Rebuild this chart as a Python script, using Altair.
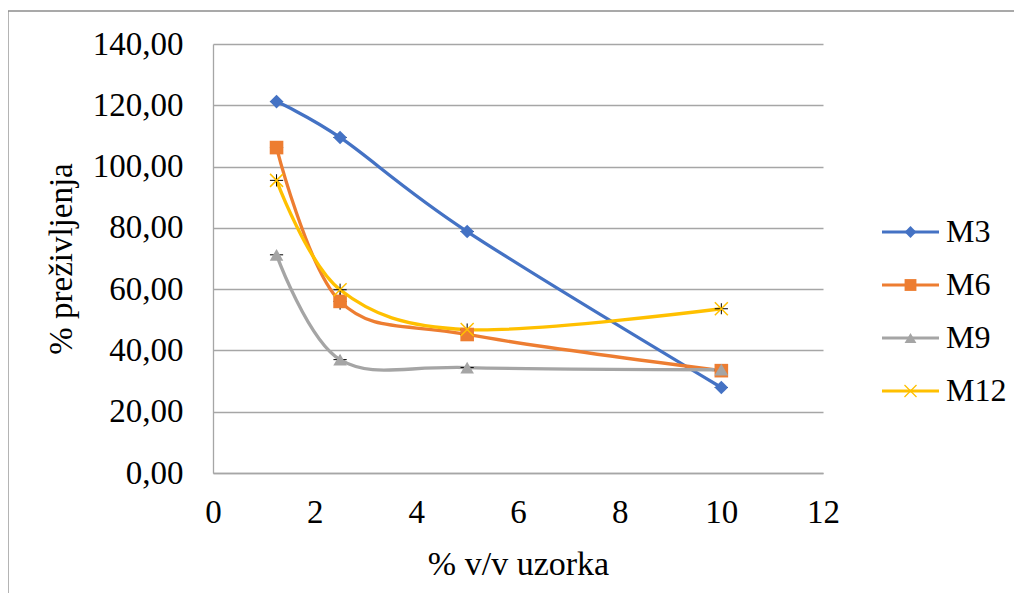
import altair as alt
import pandas as pd

# ---- data ----
x_vals = [1.25, 2.5, 5, 10]
series_names = ["M3", "M6", "M9", "M12"]
m3 = [121.2, 109.5, 78.8, 27.9]
m6 = [106.2, 56.0, 45.2, 33.4]
m9 = [71.2, 37.0, 34.4, 33.7]
m12 = [95.5, 59.8, 46.8, 53.6]
# small error bars (estimated)
m3_err = [1.5, 1.5, 1.5, 1.5]
m6_err = [2.0, 2.7, 2.0, 1.8]
m9_err = [1.5, 1.5, 1.2, 1.5]
m12_err = [2.0, 2.0, 2.0, 1.8]
x_err = [0.13, 0.13, 0.13, 0.13]

x_ticks = [0, 2, 4, 6, 8, 10, 12]
y_ticks = [0, 20, 40, 60, 80, 100, 120, 140]

colors = ["#4472C4", "#ED7D31", "#A5A5A5", "#FFC000"]
x_path = "M-1,-1L1,1M-1,1L1,-1"
shapes = ["diamond", "square", "triangle-up", x_path]

rows = []
for name, vals, errs in zip(series_names, [m3, m6, m9, m12], [m3_err, m6_err, m9_err, m12_err]):
    for xv, yv, ev, exv in zip(x_vals, vals, errs, x_err):
        rows.append({"series": name, "x": xv, "y": yv,
                     "ylo": yv - ev, "yhi": yv + ev,
                     "xlo": xv - exv, "xhi": xv + exv})
df = pd.DataFrame(rows)
leg_df = pd.DataFrame({"series": series_names})
one = pd.DataFrame({"k": [0]})

FONT = "Liberation Serif"
GRID = "#a6a6a6"
FRAME = "#8c8c8c"
NOVIEW = alt.ViewBackground(stroke="transparent", strokeWidth=0)

color_scale = alt.Scale(domain=series_names, range=colors)
shape_scale = alt.Scale(domain=series_names, range=shapes)

x_enc = alt.X("x:Q", scale=alt.Scale(domain=[0, 12], nice=False),
              axis=alt.Axis(title="% v/v uzorka", values=x_ticks, grid=False,
                            ticks=False, labelPadding=23, titlePadding=18,
                            labelFlush=False, labelOverlap=False,
                            domainColor=GRID, domainWidth=1.3,
                            labelFontSize=33, titleFontSize=34,
                            labelFont=FONT, titleFont=FONT, labelColor="black",
                            titleColor="black", titleFontWeight="normal"))
y_enc = alt.Y("y:Q", scale=alt.Scale(domain=[0, 140], nice=False),
              axis=alt.Axis(title="% preživljenja", values=y_ticks, grid=True,
                            gridColor=GRID, gridWidth=1.3, ticks=False,
                            labelPadding=30, titlePadding=14, domainColor=GRID,
                            labelFlush=False, labelOverlap=False,
                            domainWidth=1.3,
                            labelExpr="replace(format(datum.value, '.2f'), '.', ',')",
                            labelFontSize=33, titleFontSize=33, labelFont=FONT,
                            titleFont=FONT, labelColor="black", titleColor="black",
                            titleFontWeight="normal"))

base = alt.Chart(df)

lines = base.mark_line(interpolate="cardinal", strokeWidth=3.3).encode(
    x=x_enc, y=y_enc,
    color=alt.Color("series:N", scale=color_scale, legend=None),
    detail="series:N",
    order="x:Q",
)

err_v = base.mark_rule(color="black", strokeWidth=1).encode(
    x="x:Q", y="ylo:Q", y2="yhi:Q")
err_h = base.mark_rule(color="black", strokeWidth=1).encode(
    y="y:Q", x="xlo:Q", x2="xhi:Q")

pts_filled = base.transform_filter(alt.datum.series != "M12").mark_point(
    filled=True, opacity=1, size=185).encode(
    x="x:Q", y="y:Q",
    color=alt.Color("series:N", scale=color_scale, legend=None),
    shape=alt.Shape("series:N", scale=shape_scale, legend=None),
)
pts_x = base.transform_filter(alt.datum.series == "M12").mark_point(
    filled=False, opacity=1, size=169, strokeWidth=1.5).encode(
    x="x:Q", y="y:Q",
    color=alt.Color("series:N", scale=color_scale, legend=None),
    shape=alt.Shape("series:N", scale=shape_scale, legend=None),
)

# chart frame (only its top and left edges are visible in the reference)
frame_top = alt.Chart(one).mark_rule(color=FRAME, strokeWidth=1.3).encode(
    x=alt.value(-205), x2=alt.value(801), y=alt.value(-33))
frame_left = alt.Chart(one).mark_rule(color=FRAME, strokeWidth=1.3).encode(
    x=alt.value(-205), y=alt.value(-33), y2=alt.value(549))

main = alt.layer(frame_top, frame_left, lines, err_v, err_h, pts_filled, pts_x).properties(
    width=610, height=429, view=NOVIEW)

# ---- custom legend (line + marker + label) ----
leg_y = alt.Y("series:N", sort=series_names,
              scale=alt.Scale(type="point", domain=series_names, range=[188, 347], padding=0),
              axis=None)
lb = alt.Chart(leg_df)
leg_line = lb.mark_rule(strokeWidth=3).encode(
    x=alt.value(39), x2=alt.value(96), y=leg_y,
    color=alt.Color("series:N", scale=color_scale, legend=None))
leg_pts = lb.transform_filter(alt.datum.series != "M12").mark_point(
    filled=True, opacity=1, size=140).encode(
    x=alt.value(67.5), y=leg_y,
    color=alt.Color("series:N", scale=color_scale, legend=None),
    shape=alt.Shape("series:N", scale=shape_scale, legend=None))
leg_x = lb.transform_filter(alt.datum.series == "M12").mark_point(
    filled=False, opacity=1, size=144, strokeWidth=1.3).encode(
    x=alt.value(67.5), y=leg_y,
    color=alt.Color("series:N", scale=color_scale, legend=None),
    shape=alt.Shape("series:N", scale=shape_scale, legend=None))
leg_txt = lb.mark_text(align="left", baseline="middle", fontSize=32, font=FONT,
                       color="black").encode(
    x=alt.value(103), y=leg_y, text="series:N")
legend = alt.layer(leg_line, leg_pts, leg_x, leg_txt).properties(
    width=160, height=429, view=NOVIEW)

chart = alt.hconcat(main, legend, spacing=20, bounds="flush").properties(
    padding={"left": -1, "top": 2, "right": 0, "bottom": 0}
).configure(
    background="white", font=FONT,
    view=alt.ViewConfig(stroke="transparent", strokeWidth=0),
)

chart.save("out.html", embed_options={"renderer": "svg", "actions": False})
